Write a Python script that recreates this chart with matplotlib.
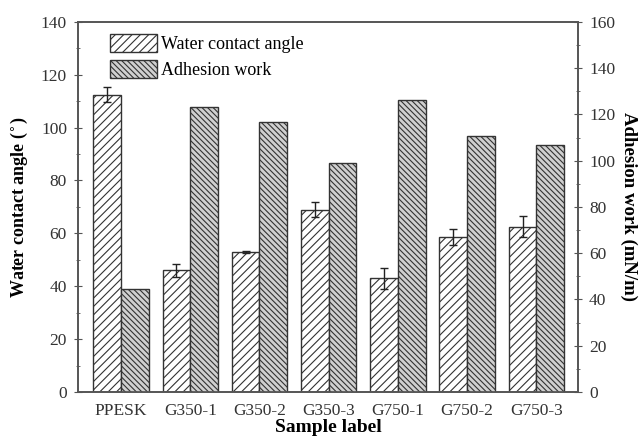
import numpy as np
import matplotlib.pyplot as plt
from matplotlib.ticker import MultipleLocator

plt.rcParams['font.family'] = ['Liberation Serif', 'DejaVu Serif']
plt.rcParams['hatch.linewidth'] = 0.8

samples = ["PPESK", "G350-1", "G350-2", "G350-3", "G750-1", "G750-2", "G750-3"]
contact_angle = [112.5, 46, 53, 69, 43, 58.5, 62.5]
contact_err = [3, 2.5, 0.5, 3, 4, 3, 4]
adhesion_work = [44.6, 123.4, 116.6, 98.9, 126.3, 110.8, 106.8]

x = np.arange(len(samples))
w = 0.4
edge = '#333333'

fig = plt.figure(figsize=(6.4, 4.37), dpi=100)
ax = fig.add_axes([0.122, 0.103, 0.781, 0.847])
ax2 = ax.twinx()

b1 = ax.bar(x - w / 2, contact_angle, w, color='white', edgecolor=edge,
            hatch='////', linewidth=1.0, label='Water contact angle', zorder=2)
ax.errorbar(x - w / 2, contact_angle, yerr=contact_err, fmt='none',
            ecolor='#222222', elinewidth=1.0, capsize=3, capthick=1.0, zorder=3)
b2 = ax2.bar(x + w / 2, adhesion_work, w, color='#d0d0d0', edgecolor=edge,
             hatch='\\\\\\\\\\\\', linewidth=1.0, label='Adhesion work', zorder=2)

ax.set_xlim(-0.62, 6.6)
ax.set_ylim(0, 140)
ax2.set_ylim(0, 160)
ax.yaxis.set_major_locator(MultipleLocator(20))
ax.yaxis.set_minor_locator(MultipleLocator(10))
ax2.yaxis.set_major_locator(MultipleLocator(20))
ax2.yaxis.set_minor_locator(MultipleLocator(10))

ax.set_xticks(x)
ax.set_xticklabels(samples, fontsize=12.5, color='#333333')
ax.tick_params(axis='x', length=0, pad=8)
for a in (ax, ax2):
    a.tick_params(axis='y', which='major', direction='inout', length=6,
                  labelsize=12.5, labelcolor='#333333', color='#555555', pad=5)
    a.tick_params(axis='y', which='minor', direction='inout', length=3,
                  color='#555555')
    for s in a.spines.values():
        s.set_color('#555555')
        s.set_linewidth(1.2)

ax.set_xlabel('Sample label', fontsize=14, fontweight='bold', labelpad=0)
ax.set_ylabel('Water contact angle ($^{\\circ}$)', fontsize=13, fontweight='bold', labelpad=8)
ax2.set_ylabel('Adhesion work (mN/m)', fontsize=13.5, fontweight='bold',
               rotation=270, labelpad=16)

ax.legend(handles=[b1, b2], loc='upper left', bbox_to_anchor=(0.031, 1.012),
          frameon=False, fontsize=13, handlelength=2.6, handleheight=1.15,
          handletextpad=0.25, labelspacing=0.4)

fig.savefig('out.png', dpi=100)
